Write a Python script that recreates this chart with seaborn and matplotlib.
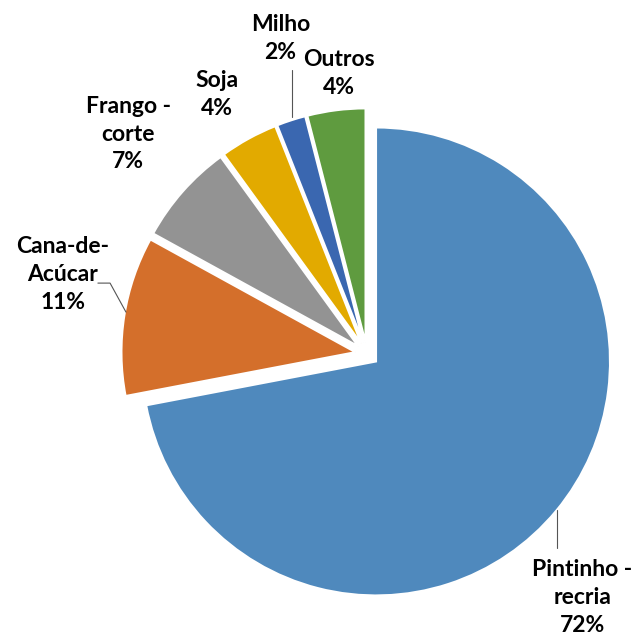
import numpy as np
import seaborn as sns
import matplotlib.pyplot as plt

labels = ['Pintinho -\nrecria', 'Cana-de-\nAcúcar', 'Frango -\ncorte', 'Soja', 'Milho', 'Outros']
shares = [72, 11, 7, 4, 2, 4]
colors = ['#4F89BD', '#D46F2B', '#939393', '#E2AA00', '#3A67B0', '#5F9B3F']

# where each label sits (data units, pie radius = 1)
label_pos = [(0.92, -1.04), (-1.30, 0.34), (-1.02, 0.94), (-0.64, 1.11), (-0.37, 1.35), (-0.12, 1.20)]

sns.set_theme(style='white')
plt.rcParams['font.family'] = ['Lato', 'DejaVu Sans']

fig = plt.figure(figsize=(6.38, 6.38), dpi=100)
ax = fig.add_axes([0, 0, 1, 1])

ax.pie(shares, colors=colors, startangle=90, counterclock=False,
       explode=[0.05] * len(shares), radius=1,
       wedgeprops=dict(edgecolor='white', linewidth=1.5))

for lab, val, (x, y) in zip(labels, shares, label_pos):
    ax.text(x, y, f'{lab}\n{val}%', ha='center', va='center',
            fontsize=16.5, fontweight='bold', linespacing=1.4, color='black')

# leader lines
ax.plot([0.812, 0.812], [-0.667, -0.829], color='#555555', lw=0.8)
ax.plot([-1.030, -1.098, -1.150], [0.179, 0.303, 0.303], color='#555555', lw=0.8)
ax.plot([-0.321, -0.321], [1.013, 1.214], color='#555555', lw=0.8)

ax.set_xlim(-367 / 234, (638 - 367) / 234)
ax.set_ylim(-(638 - 354) / 234, 354 / 234)
ax.set_aspect('auto')
ax.axis('off')

fig.savefig('out.png', dpi=100)
